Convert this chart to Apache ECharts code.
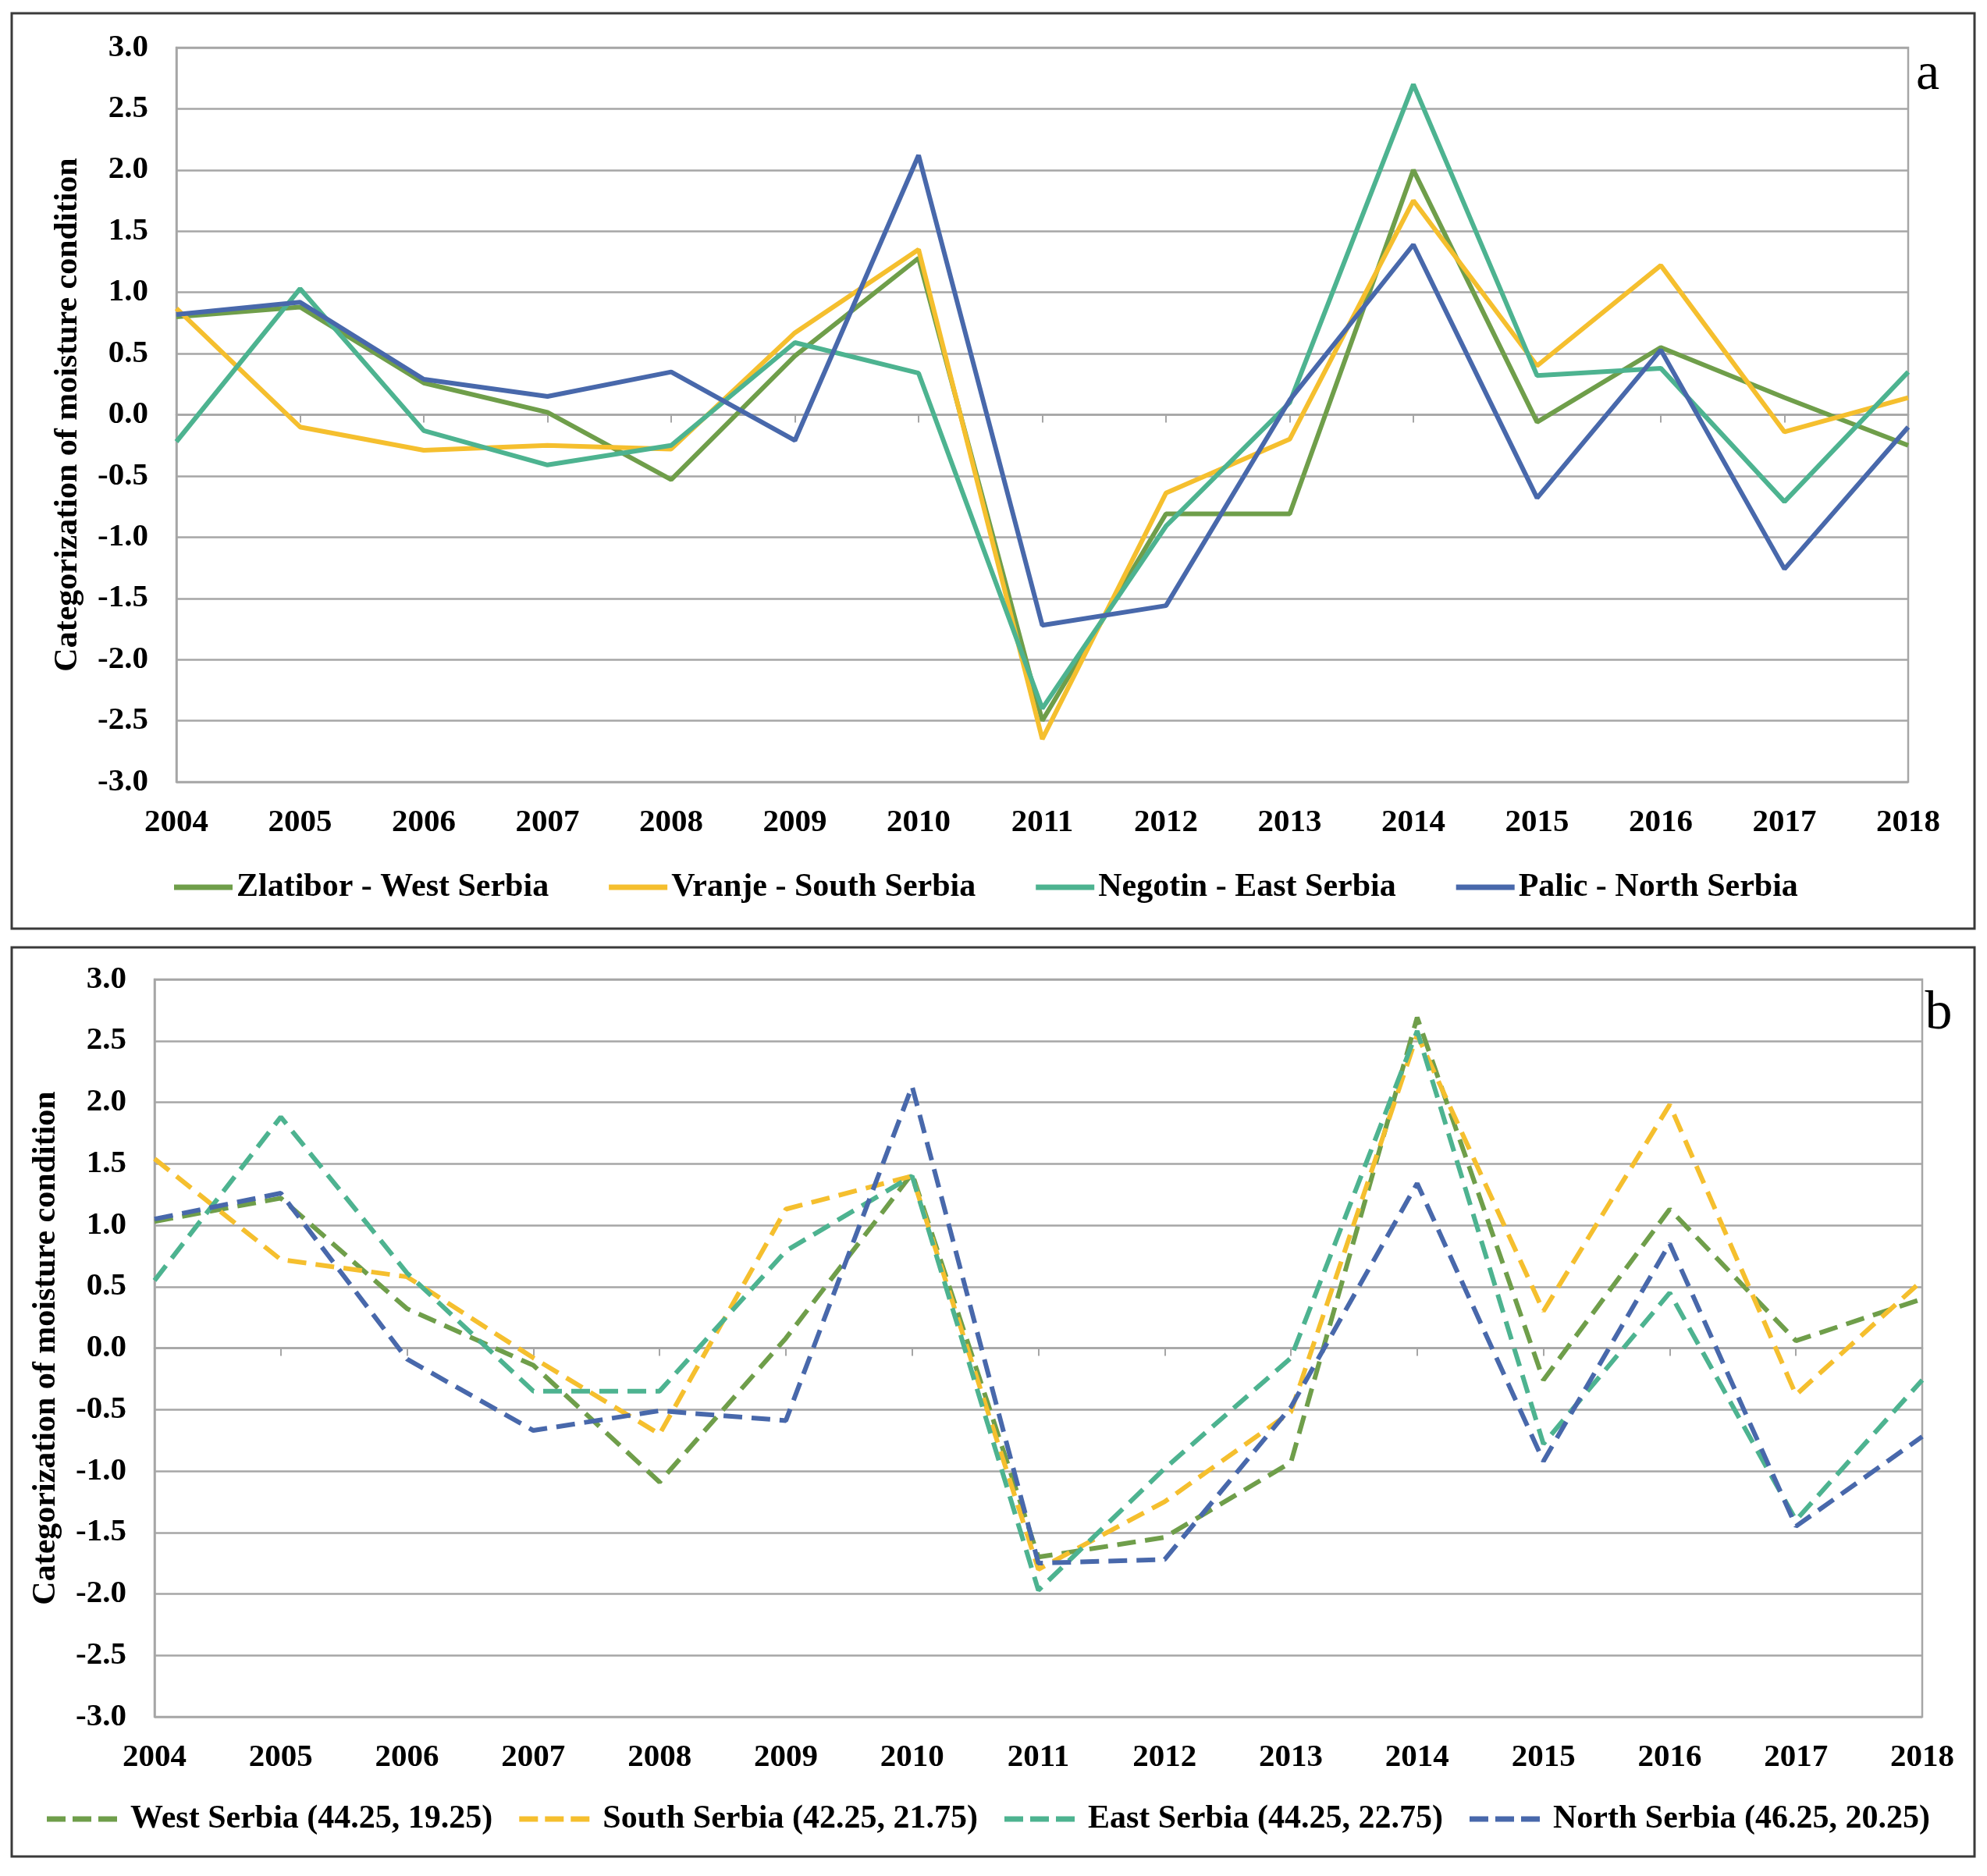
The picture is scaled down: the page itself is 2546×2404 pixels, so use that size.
<!DOCTYPE html>
<html>
<head>
<meta charset="utf-8">
<script src="https://cdn.jsdelivr.net/npm/echarts@6/dist/echarts.min.js"></script>
<style>
html,body{margin:0;padding:0;background:#fff;}
#chart{width:2546px;height:2404px;}
</style>
</head>
<body>
<div id="chart"></div>
<script>
const years = ['2004','2005','2006','2007','2008','2009','2010','2011','2012','2013','2014','2015','2016','2017','2018'];
const yTicks = [-3.0,-2.5,-2.0,-1.5,-1.0,-0.5,0.0,0.5,1.0,1.5,2.0,2.5,3.0];

// Panel a (stations)
const namesA = ['Zlatibor - West Serbia','Vranje - South Serbia','Negotin - East Serbia','Palic - North Serbia'];
const zlatibor = [0.80,0.88,0.26,0.02,-0.53,0.48,1.28,-2.50,-0.81,-0.81,2.00,-0.06,0.55,0.14,-0.25];
const vranje   = [0.87,-0.10,-0.29,-0.25,-0.28,0.67,1.35,-2.65,-0.64,-0.20,1.75,0.40,1.22,-0.14,0.14];
const negotin  = [-0.22,1.03,-0.13,-0.41,-0.25,0.59,0.34,-2.40,-0.91,0.10,2.70,0.32,0.38,-0.71,0.35];
const palic    = [0.82,0.92,0.29,0.15,0.35,-0.21,2.12,-1.72,-1.56,0.12,1.39,-0.68,0.53,-1.26,-0.10];

// Panel b (grid points)
const namesB = ['West Serbia (44.25, 19.25)','South Serbia (42.25, 21.75)','East Serbia (44.25, 22.75)','North Serbia (46.25, 20.25)'];
const west  = [1.03,1.22,0.32,-0.14,-1.09,0.08,1.42,-1.70,-1.54,-0.93,2.69,-0.26,1.13,0.06,0.40];
const south = [1.54,0.72,0.58,-0.08,-0.70,1.13,1.40,-1.80,-1.25,-0.52,2.55,0.30,1.98,-0.38,0.55];
const east  = [0.55,1.88,0.61,-0.35,-0.35,0.79,1.40,-1.97,-0.98,-0.08,2.58,-0.78,0.45,-1.40,-0.26];
const north = [1.05,1.26,-0.09,-0.67,-0.51,-0.59,2.13,-1.75,-1.72,-0.48,1.34,-0.92,0.85,-1.45,-0.72];

const colors = ['#6f9e4a','#f5bf2e','#4db390','#4868ab'];
const FONT = '"Liberation Serif","Times New Roman",serif';
const gridColor = '#a6a6a6';

const chart = echarts.init(document.getElementById('chart'), null, {renderer:'canvas'});

function xAxis(gi){
  return {
    type:'category', gridIndex:gi, data:years, boundaryGap:false,
    axisLine:{show:true, lineStyle:{color:gridColor, width:2.5}},
    axisTick:{show:true, length:10, lineStyle:{color:gridColor, width:2}},
    axisLabel:{color:'#000', fontFamily:FONT, fontWeight:'bold', fontSize:41, margin:32},
    splitLine:{show:false}
  };
}
function yAxis(gi){
  return {
    type:'value', gridIndex:gi, min:yTicks[0], max:yTicks[yTicks.length-1], interval:0.5,
    name:'Categorization of moisture condition', nameLocation:'middle', nameGap:118,
    nameTextStyle:{color:'#000', fontFamily:FONT, fontWeight:'bold', fontSize:42},
    axisLine:{show:true, lineStyle:{color:gridColor, width:2.5}},
    axisTick:{show:false},
    axisLabel:{color:'#000', fontFamily:FONT, fontWeight:'bold', fontSize:41, margin:36,
      formatter:v=>v.toFixed(1)},
    splitLine:{show:true, lineStyle:{color:gridColor, width:2.5}}
  };
}
function series(name, data, gi, ci, dashed){
  return {
    name, type:'line', xAxisIndex:gi, yAxisIndex:gi, data,
    symbol:'none', showSymbol:false, smooth:false,
    lineStyle:{color:colors[ci], width:6, type: dashed ? [24,12] : 'solid'},
    itemStyle:{color:colors[ci]},
    z: 3
  };
}

const dashIcon = 'path://M0,0 H24 V7 H0 Z M33,0 H57 V7 H33 Z M66,0 H90 V7 H66 Z';

const option = {
  backgroundColor:'#ffffff',
  animation:false,
  grid:[
    {left:226, right:101, top:61, height:941, show:true, borderColor:gridColor, borderWidth:2.5, containLabel:false},
    {left:198, right:83, top:1255, height:945, show:true, borderColor:gridColor, borderWidth:2.5, containLabel:false}
  ],
  xAxis:[xAxis(0), xAxis(1)],
  yAxis:[yAxis(0), yAxis(1)],
  legend:[
    {data:namesA, left:218, top:1111, itemWidth:75, itemHeight:7, itemGap:77,
      icon:'rect',
      textStyle:{color:'#000', fontFamily:FONT, fontWeight:'bold', fontSize:42, lineHeight:42}},
    {data:namesB, left:55, top:2305, itemWidth:90, itemHeight:7, itemGap:34,
      icon:dashIcon,
      textStyle:{color:'#000', fontFamily:FONT, fontWeight:'bold', fontSize:42, lineHeight:42, padding:[0,0,0,12]}}
  ],
  series:[
    series(namesA[0], zlatibor, 0, 0, false),
    series(namesA[1], vranje, 0, 1, false),
    series(namesA[2], negotin, 0, 2, false),
    series(namesA[3], palic, 0, 3, false),
    series(namesB[0], west, 1, 0, true),
    series(namesB[1], south, 1, 1, true),
    series(namesB[2], east, 1, 2, true),
    series(namesB[3], north, 1, 3, true)
  ],
  graphic:[
    {type:'rect', shape:{x:15, y:17, width:2515, height:1173}, style:{fill:'none', stroke:'#3a3a3a', lineWidth:3}, silent:true},
    {type:'rect', shape:{x:15, y:1214, width:2515, height:1165}, style:{fill:'none', stroke:'#3a3a3a', lineWidth:3}, silent:true},
    {type:'text', x:2470, y:96, style:{text:'a', font:'68px '+FONT, fill:'#000', textAlign:'center', textVerticalAlign:'middle'}},
    {type:'text', x:2484, y:1300, style:{text:'b', font:'70px '+FONT, fill:'#000', textAlign:'center', textVerticalAlign:'middle'}}
  ]
};
chart.setOption(option);
</script>
</body>
</html>
